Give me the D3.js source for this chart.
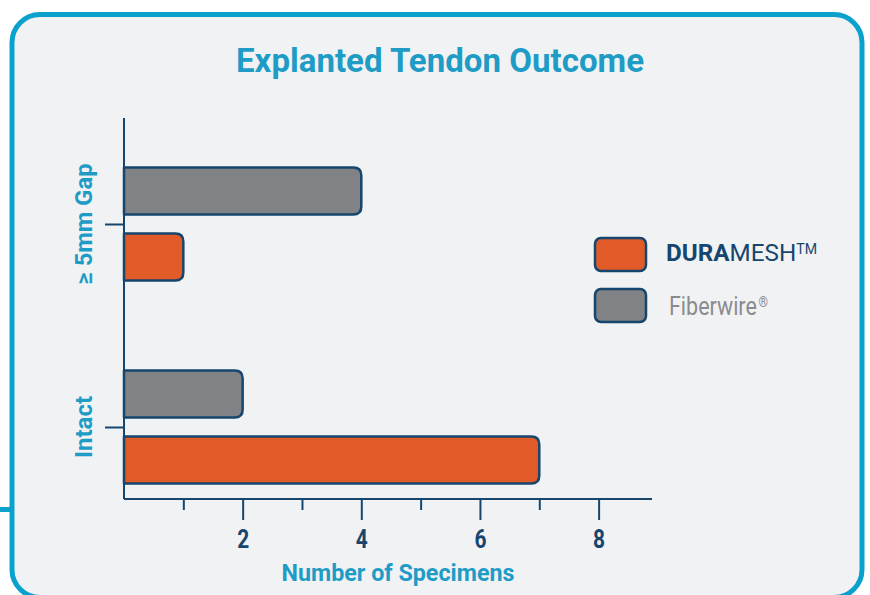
<!DOCTYPE html>
<html>
<head>
<meta charset="utf-8">
<script src="https://cdn.jsdelivr.net/npm/d3@7"></script>
<style>
  html, body { margin: 0; padding: 0; background: #ffffff; }
  svg { display: block; }
  text { font-family: Roboto, "Noto Sans", sans-serif; }
</style>
</head>
<body>
<svg width="870" height="595"></svg>
<script>
// data
const categories = ["\u2265 5mm Gap", "Intact"];
const seriesNames = ["Fiberwire", "DURAMESH"];
const fiberwireValues = [4, 2];
const durameshValues = [1, 7];
const majorTicks = [2, 4, 6, 8];
const minorTicks = [1, 3, 5, 7];

const navy = "#16466e", cyan = "#1f9cc6", frameBlue = "#0aa1cd";
const colors = { Fiberwire: "#818285", DURAMESH: "#e05b28" };

let svg = d3.select("svg");

// frame
svg.append("line")
  .attr("x1", 0).attr("x2", 12).attr("y1", 509.5).attr("y2", 509.5)
  .attr("stroke", frameBlue).attr("stroke-width", 5);
svg.append("rect")
  .attr("x", 12).attr("y", 14.5).attr("width", 850).attr("height", 583)
  .attr("rx", 28).attr("ry", 28)
  .attr("fill", "#f1f2f4").attr("stroke", frameBlue).attr("stroke-width", 5);

// title
svg.append("text")
  .attr("x", 440).attr("y", 72)
  .attr("text-anchor", "middle")
  .attr("font-size", 33).attr("font-weight", 700)
  .attr("fill", cyan)
  .attr("textLength", 408).attr("lengthAdjust", "spacingAndGlyphs")
  .text("Explanted Tendon Outcome");

// scales
const x = d3.scaleLinear().domain([0, 8.9]).range([124, 652]);
const y = d3.scalePoint().domain(categories).range([224, 427]);
const ySub = d3.scaleBand().domain(seriesNames).range([-56.5, 56.5]).paddingInner(0.288);

const g = svg.append("g");

// bars (flat on the left, rounded on the right)
function barPath(x0, x1, y0, h, r) {
  return `M${x0},${y0} H${x1 - r} Q${x1},${y0} ${x1},${y0 + r} V${y0 + h - r} Q${x1},${y0 + h} ${x1 - r},${y0 + h} H${x0} Z`;
}
const rows = [];
categories.forEach((c, i) => {
  rows.push({ cat: c, series: "Fiberwire", value: fiberwireValues[i] });
  rows.push({ cat: c, series: "DURAMESH", value: durameshValues[i] });
});
g.selectAll("path.bar").data(rows).enter()
  .append("path")
    .attr("class", "bar")
    .attr("d", d => barPath(x(0), x(d.value), y(d.cat) + ySub(d.series), ySub.bandwidth(), 8))
    .attr("fill", d => colors[d.series])
    .attr("stroke", navy)
    .attr("stroke-width", 2.5)
    .attr("stroke-linejoin", "round");

// x axis
const xAxisG = g.append("g").attr("transform", "translate(0,499)");
xAxisG.call(d3.axisBottom(x).tickValues(majorTicks).tickSize(21).tickPadding(10).tickFormat(d3.format("d")));
xAxisG.append("g").call(d3.axisBottom(x).tickValues(minorTicks).tickSize(11).tickFormat(""))
  .select(".domain").remove();
xAxisG.selectAll("path, line").attr("stroke", navy).attr("stroke-width", 2);
xAxisG.select(".domain").attr("d", `M${x(0)},0 H${x.range()[1]}`);
xAxisG.selectAll(".tick text")
  .attr("fill", navy).attr("font-size", 25).attr("font-weight", 700)
  .attr("font-family", "Roboto")
  .attr("textLength", 12).attr("lengthAdjust", "spacingAndGlyphs");

// y axis
const yAxisG = g.append("g").attr("transform", `translate(${x(0)},0)`);
yAxisG.call(d3.axisLeft(y).tickSize(19).tickFormat(""));
yAxisG.select(".domain").attr("d", "M0,118 V499");
yAxisG.selectAll("path, line").attr("stroke", navy).attr("stroke-width", 2);

// category labels (rotated)
g.selectAll("text.cat").data(categories).enter()
  .append("text")
    .attr("class", "cat")
    .attr("transform", d => `translate(92,${y(d)}) rotate(-90)`)
    .attr("text-anchor", "middle")
    .attr("font-size", 24).attr("font-weight", 700)
    .attr("fill", cyan)
    .attr("textLength", (d, i) => i === 0 ? 121 : 62)
    .attr("lengthAdjust", "spacingAndGlyphs")
    .text(d => d);

// x axis title
svg.append("text")
  .attr("x", 398).attr("y", 581)
  .attr("text-anchor", "middle")
  .attr("font-size", 24).attr("font-weight", 700)
  .attr("fill", cyan)
  .attr("textLength", 233).attr("lengthAdjust", "spacingAndGlyphs")
  .text("Number of Specimens");

// legend
const legend = svg.append("g");
const legendY = { DURAMESH: 238, Fiberwire: 289 };
["DURAMESH", "Fiberwire"].forEach(s => {
  legend.append("rect")
    .attr("x", 595).attr("y", legendY[s]).attr("width", 51).attr("height", 33)
    .attr("rx", 6)
    .attr("fill", colors[s]).attr("stroke", navy).attr("stroke-width", 2.5);
});
const dm = legend.append("text").attr("x", 666).attr("y", 261)
  .attr("font-size", 24).attr("fill", navy)
  .attr("textLength", 151).attr("lengthAdjust", "spacingAndGlyphs");
dm.append("tspan").attr("font-weight", 700).text("DURA");
dm.append("tspan").attr("font-weight", 400).text("MESH");
dm.append("tspan").attr("font-weight", 400).attr("font-size", 14).attr("dy", -7).text("TM");

const fw = legend.append("text").attr("x", 669).attr("y", 315)
  .attr("font-size", 25).attr("fill", "#8a8b8e")
  .attr("textLength", 99).attr("lengthAdjust", "spacingAndGlyphs");
fw.append("tspan").text("Fiberwire");
fw.append("tspan").attr("font-size", 14).attr("dx", 2).attr("dy", -8).text("\u00AE");
</script>
</body>
</html>
